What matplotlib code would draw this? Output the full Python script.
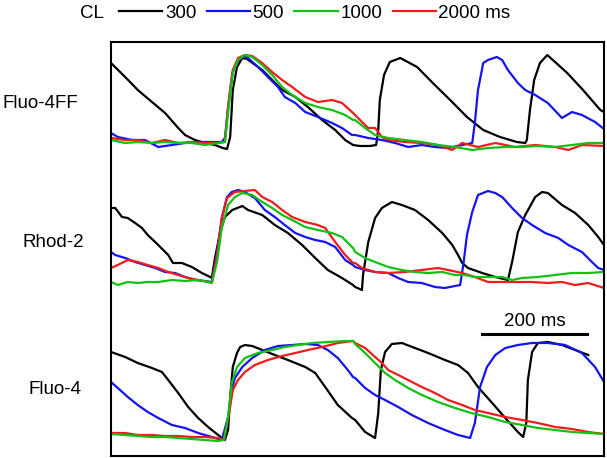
import matplotlib
matplotlib.use("Agg")
import matplotlib.pyplot as plt

plt.rcParams["font.family"] = ["Liberation Sans", "DejaVu Sans"]

# time in ms, fluorescence in a.u. above each trace's resting level

# ---- Fluo-4FF ----
ff_t_300 = [0, 27, 51, 78, 103, 128, 141, 160, 179, 198, 213, 221, 227, 232, 240, 250, 259,
            288, 307, 326, 351, 375, 402, 427, 446, 461, 474, 493, 505, 509, 512, 520, 531,
            551, 583, 613, 646, 678, 709, 741, 773, 789, 792, 798, 806, 817, 831, 869, 899,
            932, 939]
ff_f_300 = [79, 65, 52, 40, 29, 14, 7, 2, -1, -3, -6, -7, 5, 52, 75, 84, 83,
            72, 62, 52, 45, 35, 22, 12, 2, -3, -4, -4, -3, 12, 42, 67, 80,
            84, 75, 59, 42, 25, 12, 5, 0, -1, 2, 32, 62, 79, 87, 69, 52,
            32, 30]
ff_t_500 = [0, 13, 40, 65, 90, 116, 141, 166, 192, 211, 217, 223, 231, 240, 250, 259, 280,
            299, 318, 331, 351, 370, 394, 421, 440, 459, 465, 490, 516, 541, 566, 592, 617,
            642, 669, 688, 693, 699, 709, 718, 735, 745, 756, 775, 789, 808, 832, 859, 878,
            897, 922, 939]
ff_f_500 = [9, 5, 2, 2, -5, -3, -1, 0, 0, 0, 4, 35, 69, 80, 85, 85, 75,
            65, 55, 45, 39, 30, 25, 19, 14, 7, 7, 4, 2, -1, -5, -3, -5,
            -6, -3, -1, 19, 52, 79, 82, 85, 82, 72, 59, 52, 47, 39, 24, 30,
            27, 20, 13]
ff_t_1000 = [0, 27, 51, 78, 103, 128, 154, 179, 204, 217, 223, 232, 242, 255, 269, 288, 307,
             326, 345, 370, 394, 421, 446, 461, 465, 484, 503, 528, 560, 592, 623, 655, 688,
             718, 751, 783, 813, 846, 878, 909, 939]
ff_f_1000 = [2, -1, 0, -1, 0, -1, -1, -3, -1, 0, 29, 69, 82, 87, 85, 77, 67,
             55, 47, 39, 35, 32, 27, 22, 22, 14, 7, 4, 2, 0, -3, -5, -8,
             -6, -5, -5, -4, -5, -3, -1, -1]
ff_t_2000 = [0, 27, 51, 78, 103, 128, 154, 179, 204, 217, 223, 232, 242, 255, 269, 288, 307,
             326, 345, 370, 394, 421, 440, 459, 465, 478, 490, 503, 516, 528, 560, 592, 623,
             650, 669, 699, 732, 770, 808, 846, 871, 897, 939]
ff_f_2000 = [4, 2, 2, -1, 2, -1, 0, -1, -1, 0, 35, 72, 84, 87, 86, 79, 70,
             62, 55, 45, 40, 42, 39, 30, 27, 20, 14, 14, 5, 2, 0, -1, -3,
             -8, -1, -5, -1, -5, -3, -5, -8, -3, -4]

# ---- Rhod-2 ----
rh_t_300 = [0, 8, 21, 32, 46, 59, 70, 90, 109, 118, 135, 154, 173, 189, 192, 198, 208,
            217, 231, 250, 261, 288, 312, 337, 364, 389, 413, 440, 461, 465, 478, 480, 490,
            503, 516, 535, 554, 579, 604, 631, 650, 661, 669, 680, 707, 732, 756, 764, 775,
            789, 808, 821, 832, 859, 884, 909, 928, 939]
rh_f_300 = [75, 75, 66, 65, 60, 55, 48, 38, 28, 20, 20, 16, 10, 6, 5, 25, 51,
            66, 73, 77, 73, 68, 58, 50, 38, 25, 13, 5, -2, -4, -7, 8, 41,
            65, 75, 81, 78, 73, 63, 50, 38, 28, 20, 15, 10, 6, 3, 21, 51,
            68, 86, 91, 90, 78, 70, 58, 46, 38]
rh_t_500 = [0, 8, 27, 46, 65, 84, 103, 122, 141, 160, 179, 192, 202, 211, 221, 230, 242,
            255, 274, 293, 312, 331, 351, 370, 389, 408, 427, 446, 461, 465, 484, 503, 528,
            547, 566, 592, 617, 636, 655, 665, 671, 678, 688, 699, 718, 732, 745, 764, 783,
            802, 827, 852, 871, 897, 916, 928, 939]
rh_f_500 = [31, 28, 25, 21, 18, 15, 11, 10, 6, 3, 2, 1, 31, 65, 86, 91, 93,
            91, 85, 73, 66, 58, 50, 46, 43, 41, 36, 23, 18, 16, 13, 11, 10,
            5, 1, 0, -4, -5, -3, -2, 18, 48, 71, 88, 92, 90, 86, 75, 65,
            58, 50, 45, 38, 31, 21, 15, 13]
rh_t_1000 = [0, 13, 32, 51, 70, 90, 116, 141, 166, 185, 192, 202, 211, 223, 236, 250, 269,
             288, 307, 326, 345, 370, 394, 421, 440, 461, 465, 484, 503, 528, 554, 579, 604,
             631, 655, 674, 693, 718, 745, 764, 783, 813, 846, 878, 909, 939]
rh_f_1000 = [1, -2, 1, 0, 1, 1, 3, 2, 3, 1, 0, 21, 55, 78, 86, 90, 88,
             81, 75, 68, 63, 56, 53, 50, 46, 35, 31, 25, 21, 16, 13, 11, 10,
             11, 8, 8, 6, 6, 6, 3, 5, 6, 8, 10, 10, 11]
rh_t_2000 = [0, 13, 32, 51, 70, 90, 109, 128, 147, 166, 185, 192, 202, 211, 221, 236, 255,
             274, 288, 307, 326, 345, 370, 394, 408, 427, 446, 461, 465, 478, 503, 528, 560,
             592, 623, 642, 669, 693, 718, 745, 770, 802, 832, 859, 884, 909, 939]
rh_f_2000 = [15, 18, 23, 21, 18, 15, 11, 8, 5, 3, 1, 0, 28, 65, 85, 91, 92,
             93, 86, 81, 73, 66, 61, 58, 55, 41, 28, 20, 20, 15, 11, 10, 11,
             13, 15, 13, 10, 6, 1, 1, 1, 1, 0, 1, -2, 0, -5]

# ---- Fluo-4 ----
f4_t_300 = [0, 27, 51, 78, 97, 109, 128, 147, 166, 185, 204, 217, 223, 227, 232, 240, 246,
            255, 269, 288, 312, 337, 370, 389, 408, 432, 459, 465, 484, 503, 509, 514, 522,
            535, 554, 579, 604, 636, 661, 680, 699, 726, 751, 775, 785, 791, 794, 802, 813,
            832, 859, 884, 909]
f4_f_300 = [88, 83, 77, 72, 68, 60, 47, 33, 22, 13, 5, 0, 10, 43, 73, 87, 93,
            95, 94, 90, 85, 80, 73, 67, 53, 35, 22, 20, 8, 2, 27, 70, 88,
            96, 97, 92, 87, 80, 75, 67, 53, 37, 22, 8, 3, 17, 60, 88, 97,
            98, 95, 90, 85]
f4_t_500 = [0, 13, 32, 51, 70, 90, 116, 141, 166, 192, 211, 223, 230, 236, 250, 269, 293,
            318, 345, 370, 394, 413, 432, 451, 461, 465, 484, 503, 522, 547, 573, 604, 636,
            661, 684, 693, 703, 716, 732, 751, 775, 802, 832, 865, 897, 922, 939]
f4_f_500 = [58, 52, 43, 35, 28, 22, 15, 12, 7, 3, 0, 23, 50, 62, 73, 82, 90,
            94, 95, 96, 95, 90, 82, 70, 63, 62, 52, 45, 40, 33, 25, 17, 10,
            5, 2, 17, 53, 73, 85, 92, 95, 97, 97, 95, 87, 73, 58]
f4_t_1000 = [0, 27, 51, 78, 103, 128, 154, 179, 204, 215, 223, 230, 240, 255, 280, 307, 331,
             356, 383, 413, 446, 461, 465, 484, 503, 522, 541, 566, 592, 623, 655, 686, 718,
             751, 783, 813, 846, 878, 909, 939]
f4_f_1000 = [6, 5, 4, 3, 3, 2, 1, 0, -1, 0, 23, 57, 73, 82, 87, 90, 93,
             95, 97, 98, 99, 99, 96, 87, 77, 67, 60, 52, 45, 38, 32, 27, 23,
             18, 15, 12, 10, 8, 7, 6]
f4_t_2000 = [0, 27, 51, 78, 103, 128, 154, 179, 204, 215, 225, 232, 242, 255, 274, 299, 326,
             351, 375, 402, 432, 461, 465, 484, 503, 516, 528, 547, 566, 592, 617, 642, 669,
             693, 718, 751, 783, 813, 846, 878, 909, 939]
f4_f_2000 = [7, 7, 5, 5, 4, 4, 3, 3, 2, 0, 27, 50, 60, 68, 75, 80, 84,
             87, 90, 93, 97, 99, 97, 92, 83, 77, 70, 65, 60, 53, 47, 40, 35,
             30, 27, 23, 20, 17, 13, 11, 8, 6]

cl_labels = ["300", "500", "1000", "2000 ms"]
dye_names = ["Fluo-4FF", "Rhod-2", "Fluo-4"]
colors = ["black", "#1414f0", "#14c014", "#f01c1c"]


def main():
    fig = plt.figure(figsize=(6.07, 4.58), dpi=100)
    ax = fig.add_axes([111 / 607, 2 / 458, 493 / 607, 414 / 458])

    panels = [
        (314, [(ff_t_300, ff_f_300), (ff_t_500, ff_f_500), (ff_t_1000, ff_f_1000), (ff_t_2000, ff_f_2000)]),
        (173, [(rh_t_300, rh_f_300), (rh_t_500, rh_f_500), (rh_t_1000, rh_f_1000), (rh_t_2000, rh_f_2000)]),
        (16, [(f4_t_300, f4_f_300), (f4_t_500, f4_f_500), (f4_t_1000, f4_f_1000), (f4_t_2000, f4_f_2000)]),
    ]
    order = [0, 1, 3, 2]
    handles = [None] * 4
    for offset, traces in panels:
        for i in order:
            t, f = traces[i]
            line, = ax.plot(t, [v + offset for v in f], color=colors[i], lw=1.6)
            handles[i] = line

    ax.set_xlim(0, 939)
    ax.set_ylim(0, 414)
    ax.set_xticks([])
    ax.set_yticks([])
    for s in ax.spines.values():
        s.set_linewidth(1.5)

    fs = 13.5
    # panel labels
    fig.text(2 / 607, 1 - 103 / 458, dye_names[0], fontsize=fs, va="center", ha="left")
    fig.text(22 / 607, 1 - 243 / 458, dye_names[1], fontsize=fs, va="center", ha="left")
    fig.text(28 / 607, 1 - 389 / 458, dye_names[2], fontsize=fs, va="center", ha="left")

    # scale bar
    ax.plot([707, 907], [122, 122], color="black", lw=2.2)
    ax.text(807, 135, "200 ms", fontsize=fs, ha="center", va="center")

    # legend
    fig.text(80 / 607, 1 - 13 / 458, "CL", fontsize=fs, va="center", ha="left")
    fig.legend(handles, cl_labels, ncol=4, frameon=False, fontsize=fs,
               loc="center left", bbox_to_anchor=(119 / 607, 1 - 13 / 458),
               handlelength=2.3, handletextpad=0.15, columnspacing=0.55,
               borderpad=0, borderaxespad=0)

    fig.savefig("out.png", dpi=100)


if __name__ == "__main__":
    main()
